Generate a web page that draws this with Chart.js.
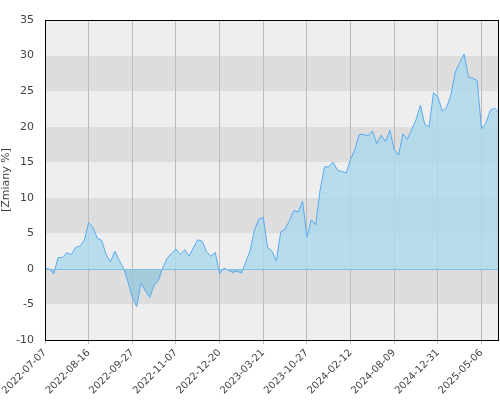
<!DOCTYPE html>
<html>
<head>
<meta charset="utf-8">
<script src="https://cdn.jsdelivr.net/npm/chart.js@4/dist/chart.umd.min.js"></script>
<style>
  body { margin: 0; background: #fff; }
  #wrap { width: 500px; height: 400px; }
</style>
</head>
<body>
<div id="wrap"><canvas id="chart"></canvas></div>
<script>
// Tick labels, one every 10 points
const tickLabels = ['2022-07-07', '2022-08-16', '2022-09-27', '2022-11-07', '2022-12-20',
    '2023-03-21', '2023-10-27', '2024-02-12', '2024-08-09', '2024-12-31', '2025-05-06'];
const tickStep = 10;

// Percent change values
const changes = [
    0.1, 0.0, -0.7, 1.6, 1.6, 2.3, 2.0, 3.0, 3.2, 4.0,
    6.5, 5.8, 4.3, 4.0, 2.0, 1.0, 2.5, 1.2, 0.1, -1.8,
    -4.0, -5.3, -2.0, -3.1, -4.0, -2.3, -1.6, 0.2, 1.5, 2.2,
    2.8, 2.0, 2.7, 1.8, 3.0, 4.1, 3.9, 2.4, 1.8, 2.3,
    -0.7, 0.1, -0.2, -0.5, -0.3, -0.6, 1.0, 2.6, 5.5, 7.0,
    7.2, 3.0, 2.5, 1.1, 5.2, 5.6, 6.8, 8.2, 8.0, 9.5,
    4.5, 6.9, 6.2, 11.0, 14.3, 14.4, 15.0, 13.9, 13.7, 13.5,
    15.4, 16.8, 18.9, 18.9, 18.7, 19.4, 17.6, 18.8, 17.9, 19.5,
    16.8, 16.0, 19.0, 18.2, 19.6, 21.0, 23.0, 20.3, 20.0, 24.8,
    24.2, 22.2, 22.7, 24.5, 27.7, 29.0, 30.2, 27.0, 26.8, 26.5,
    19.7, 20.5, 22.3, 22.6, 22.0
];
const categories = changes.map((v, i) => i);

// Alternating horizontal bands behind the plot
const bands = {
    id: 'bands',
    beforeDraw(chart) {
        const { ctx, chartArea: a, scales: { y } } = chart;
        ctx.save();
        for (let v = -10; v < 35; v += 5) {
            const dark = ((v + 10) / 5) % 2 === 1;
            ctx.fillStyle = dark ? '#dddddd' : '#eeeeee';
            const top = y.getPixelForValue(v + 5);
            const bot = y.getPixelForValue(v);
            ctx.fillRect(a.left, top, a.right - a.left, bot - top);
        }
        ctx.restore();
    },
    afterDraw(chart) {
        const { ctx, chartArea: a, scales: { y } } = chart;
        ctx.save();
        ctx.strokeStyle = '#7ec3e6';
        ctx.lineWidth = 1;
        const z = Math.round(y.getPixelForValue(0)) + 0.5;
        ctx.beginPath();
        ctx.moveTo(a.left, z);
        ctx.lineTo(a.right, z);
        ctx.stroke();
        ctx.strokeStyle = '#000';
        ctx.strokeRect(a.left + 0.5, a.top + 0.5, a.right - a.left - 1, a.bottom - a.top);
        ctx.restore();
    }
};

new Chart(document.getElementById('chart'), {
    type: 'line',
    data: {
        labels: categories,
        datasets: [{
            data: changes,
            borderColor: '#5aaaf0',
            borderWidth: 1,
            pointRadius: 0,
            tension: 0,
            fill: { target: 'origin', above: 'rgba(173,216,235,0.85)', below: 'rgba(150,200,220,0.8)' }
        }]
    },
    options: {
        responsive: true,
        maintainAspectRatio: false,
        animation: false,
        layout: { padding: { top: 20, right: 1 } },
        plugins: { legend: { display: false }, tooltip: { enabled: false } },
        scales: {
            x: {
                offset: false,
                grid: { color: '#bbbbbb', drawTicks: true, tickLength: 4 },
                border: { display: false },
                ticks: {
                    autoSkip: false,
                    maxRotation: 45,
                    minRotation: 45,
                    color: '#444',
                    font: { family: 'DejaVu Sans', size: 10 },
                    callback: (v, i) => i % tickStep === 0 ? tickLabels[i / tickStep] : null
                },
                afterFit: s => { s.height = 60; }
            },
            y: {
                min: -10,
                max: 35,
                grid: { display: false },
                border: { display: false },
                ticks: { stepSize: 5, color: '#444', font: { family: 'DejaVu Sans', size: 11 } },
                title: { display: true, text: '[Zmiany %]', color: '#444', font: { family: 'DejaVu Sans', size: 11 }, padding: 0 },
                afterFit: s => { s.width = 45; }
            }
        }
    },
    plugins: [bands]
});
</script>
</body>
</html>
